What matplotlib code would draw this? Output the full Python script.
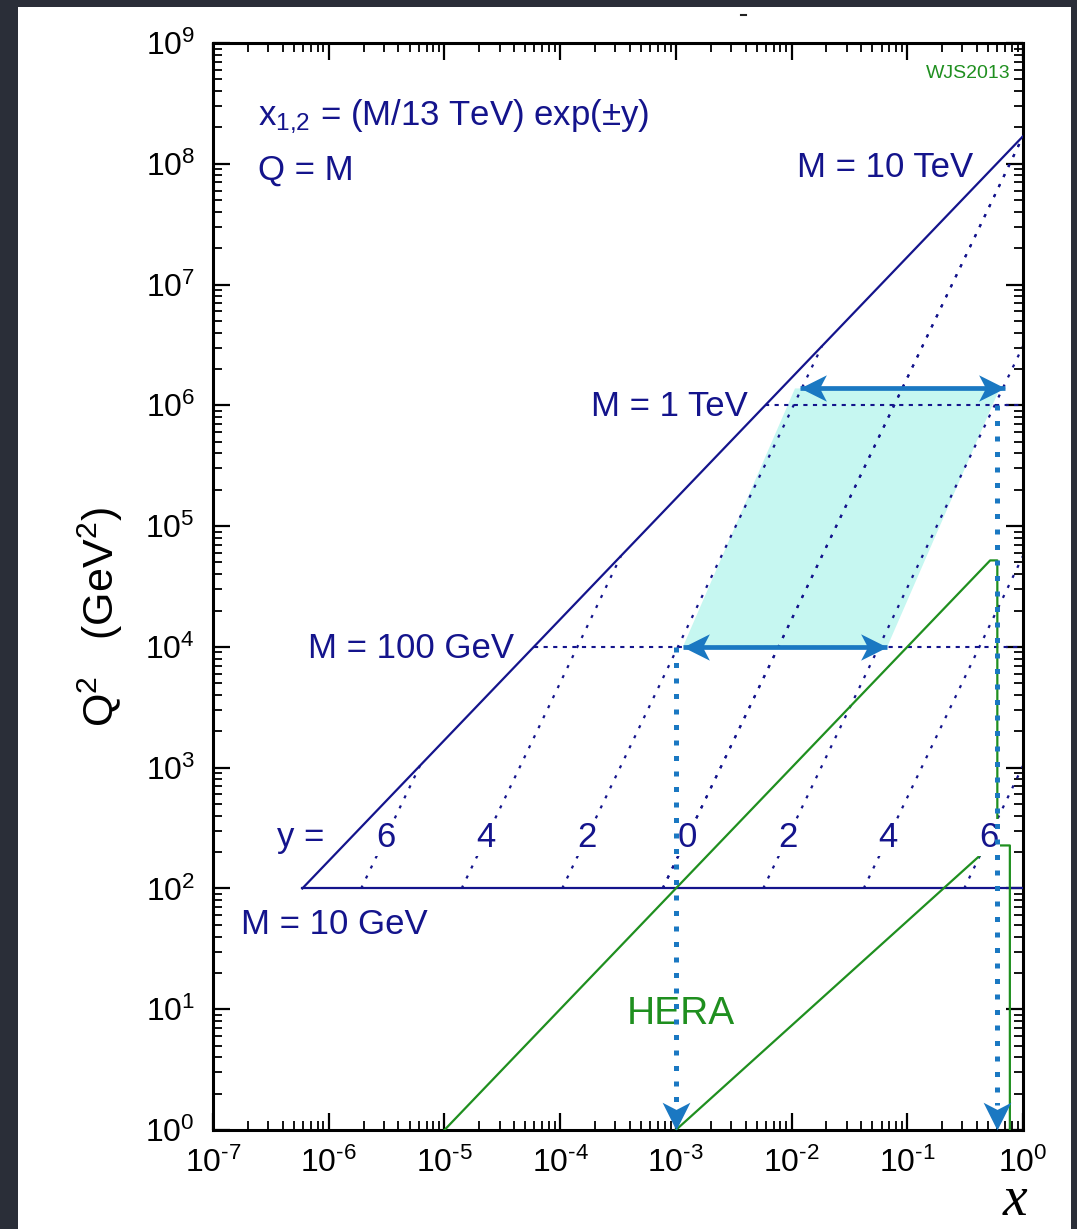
import numpy as np
import matplotlib
matplotlib.use("Agg")
import matplotlib.pyplot as plt
from matplotlib.path import Path
from matplotlib.markers import MarkerStyle
from matplotlib.transforms import Affine2D
from matplotlib.patches import Rectangle
from matplotlib.lines import Line2D
from matplotlib.ticker import FixedLocator, FuncFormatter, NullFormatter

plt.rcParams['font.family'] = ['Liberation Sans', 'DejaVu Sans']
plt.rcParams['mathtext.fontset'] = 'custom'
plt.rcParams['mathtext.rm'] = 'Liberation Sans'
plt.rcParams['mathtext.it'] = 'Liberation Sans:italic'
plt.rcParams['mathtext.default'] = 'regular'

# ---- axis decades ----
x_decades = [-7, -6, -5, -4, -3, -2, -1, 0]
q2_decades = [0, 1, 2, 3, 4, 5, 6, 7, 8, 9]

# ---- kinematics (LHC at 13 TeV) ----
sqrt_s = 13000.0                     # GeV
s = sqrt_s ** 2
m_min = 10.0                         # GeV, lowest mass shown
m_dashed = [100.0, 1000.0]           # masses with horizontal guide lines
rapidities = [0, 2, 4, 6]
label_q2 = 265.0                     # height of the rapidity labels

# ---- HERA region outline ----
hera_upper_x = [1e-5, 0.52, 0.60, 0.60]
hera_upper_q2 = [1.0, 5.2e4, 5.2e4, 227.0]
hera_lower_x = [1e-3, 0.53, 0.77, 0.77]
hera_lower_q2 = [1.0, 227.0, 227.0, 1.0]

# ---- highlighted band and arrows ----
band_x = [1.15e-3, 0.067, 0.63, 0.0107]
band_q2 = [1e4, 1e4, 1.38e6, 1.38e6]
arrow_low_x = [1.15e-3, 0.067]
arrow_low_q2 = 1e4
arrow_high_x = [0.0118, 0.70]
arrow_high_q2 = 1.38e6
drop_x = [1e-3, 0.60]
drop_top_q2 = [1e4, 1e6]

NAVY = '#14148c'
GREEN = '#1f8f1f'
BLUE = '#1a78c2'
CYAN = '#c6f7f1'

W, H = 1077, 1229
fig = plt.figure(figsize=(W / 100, H / 100), dpi=100, facecolor='#2a2e38')
fig.add_artist(Rectangle((18 / W, 0), (1071 - 18) / W, (H - 7) / H,
                         transform=fig.transFigure, facecolor='white',
                         edgecolor='none', zorder=-10))
fig.add_artist(Line2D([741 / W, 746 / W], [1 - 15 / H, 1 - 15 / H],
                      color='#222222', lw=1.5))

ax = fig.add_axes([213 / W, 1 - 1130 / H, 810 / W, 1087 / H])
ax.set_xscale('log')
ax.set_yscale('log')
ax.set_xlim(10.0 ** x_decades[0], 10.0 ** x_decades[-1])
ax.set_ylim(10.0 ** q2_decades[0], 10.0 ** q2_decades[-1])

for sp in ax.spines.values():
    sp.set_linewidth(2.2)


def decade_label(v, _):
    e = int(round(np.log10(v)))
    if e < 0:
        return r'$10^{\text{-}%d}$' % (-e)
    return r'$10^{%d}$' % e


for axis, decs in ((ax.xaxis, x_decades), (ax.yaxis, q2_decades)):
    major = [10.0 ** d for d in decs]
    minor = [k * 10.0 ** d for d in decs[:-1] for k in range(2, 10)]
    axis.set_major_locator(FixedLocator(major))
    axis.set_minor_locator(FixedLocator(minor))
    axis.set_major_formatter(FuncFormatter(decade_label))
    axis.set_minor_formatter(NullFormatter())
ax.tick_params(which='both', direction='in', top=True, right=True, labelsize=23)
ax.tick_params(which='major', length=12, width=1.6, pad=13)
ax.tick_params(which='minor', length=6.5, width=1.3)

# stealth-style arrow head, tip at the origin, pointing to +x
head_path = Path([(0, 0), (-1, 0.5), (-0.74, 0), (-1, -0.5), (0, 0)],
                 [Path.MOVETO, Path.LINETO, Path.LINETO, Path.LINETO, Path.CLOSEPOLY])


def head(x, y, angle, size=38):
    m = MarkerStyle(head_path, transform=Affine2D().rotate_deg(angle))
    ax.plot([x], [y], marker=m, markersize=size, color=BLUE, mew=0,
            linestyle='none', zorder=7, clip_on=False)


# shaded band
ax.fill(band_x, band_q2, color=CYAN, lw=0, zorder=1)

# kinematic boundary: Q^2 = s x and M = 10 GeV
ax.plot([m_min ** 2 / s, 1.0], [m_min ** 2, s], color=NAVY, lw=1.6, zorder=3)
ax.plot([m_min ** 2 / s, 1.0], [m_min ** 2, m_min ** 2], color=NAVY, lw=1.6, zorder=3)

# lines of fixed rapidity, x = (M / sqrt_s) exp(+-y)
for yv in rapidities:
    m_top = sqrt_s * np.exp(-yv)
    for sign in (-1, 1):
        xs = [m_min / sqrt_s * np.exp(sign * yv), m_top / sqrt_s * np.exp(sign * yv)]
        ax.plot(xs, [m_min ** 2, m_top ** 2], color=NAVY, lw=1.6,
                ls=(0, (1.4, 3.6)), zorder=2)

# horizontal guides at fixed mass
for m in m_dashed:
    ax.plot([m ** 2 / s, 1.0], [m ** 2, m ** 2], color=NAVY, lw=1.5,
            ls=(0, (2.0, 2.6)), zorder=2)

# HERA region
ax.plot(hera_upper_x, hera_upper_q2, color=GREEN, lw=1.6, zorder=3)
ax.plot(hera_lower_x, hera_lower_q2, color=GREEN, lw=1.6, zorder=3)

# rapidity labels sitting on their lines
for yv in rapidities:
    for sign in ((-1, 1) if yv else (1,)):
        xl = np.sqrt(label_q2) / sqrt_s * np.exp(sign * yv)
        ax.text(xl, label_q2, str(yv), color=NAVY, fontsize=25, ha='center',
                va='center', zorder=4,
                bbox=dict(boxstyle='square,pad=0.05', fc='white', ec='none'))

# double arrows
ax.plot(arrow_low_x, [arrow_low_q2] * 2, color=BLUE, lw=3.4, zorder=6,
        solid_capstyle='butt')
head(arrow_low_x[0], arrow_low_q2, 180)
head(arrow_low_x[1], arrow_low_q2, 0)
ax.plot(arrow_high_x, [arrow_high_q2] * 2, color=BLUE, lw=3.4, zorder=6,
        solid_capstyle='butt')
head(arrow_high_x[0], arrow_high_q2, 180)
head(arrow_high_x[1], arrow_high_q2, 0)

# dotted drops to the x axis
for xd, qt in zip(drop_x, drop_top_q2):
    ax.plot([xd, xd], [qt, 1.6], color=BLUE, lw=3.6, ls=(0, (1, 2.1)),
            dash_capstyle='butt', zorder=6)
    head(xd, 1.0, -90, size=40)

# annotations
tk = dict(color=NAVY, fontsize=25, transform=ax.transAxes, zorder=5)
ax.text(0.0556, 0.9246, r'x$_{1{,}2}$ = (M/13 TeV) exp($\pm$y)', ha='left', va='baseline', **tk)
ax.text(0.0556, 0.8740, 'Q = M', ha='left', va='baseline', **tk)
ax.text(0.9383, 0.8767, 'M = 10 TeV', ha='right', va='baseline', **tk)
ax.text(0.6605, 0.6569, 'M = 1 TeV', ha='right', va='baseline', **tk)
ax.text(0.3716, 0.4342, 'M = 100 GeV', ha='right', va='baseline', **tk)
ax.text(0.0346, 0.1803, 'M = 10 GeV', ha='left', va='baseline', **tk)
ax.text(0.0790, 0.2600, 'y =', ha='left', va='baseline', **tk)
ax.text(0.5780, 0.0975, 'HERA', color=GREEN, fontsize=28, ha='center',
        va='baseline', transform=ax.transAxes, zorder=5)
ax.text(0.9840, 0.9678, 'WJS2013', color=GREEN, fontsize=14, ha='right',
        va='baseline', transform=ax.transAxes, zorder=5)

fig.text(100 / W, 1 - 617 / H, r'Q$^2$   (GeV$^2$)', rotation=90, fontsize=31,
         ha='center', va='center', color='black')
fig.text(1015 / W, 1 - 1227 / H, 'x', family='Liberation Serif', style='italic',
         fontsize=40, ha='center', va='bottom', color='black')

fig.savefig('out.png', dpi=100, facecolor=fig.get_facecolor())
